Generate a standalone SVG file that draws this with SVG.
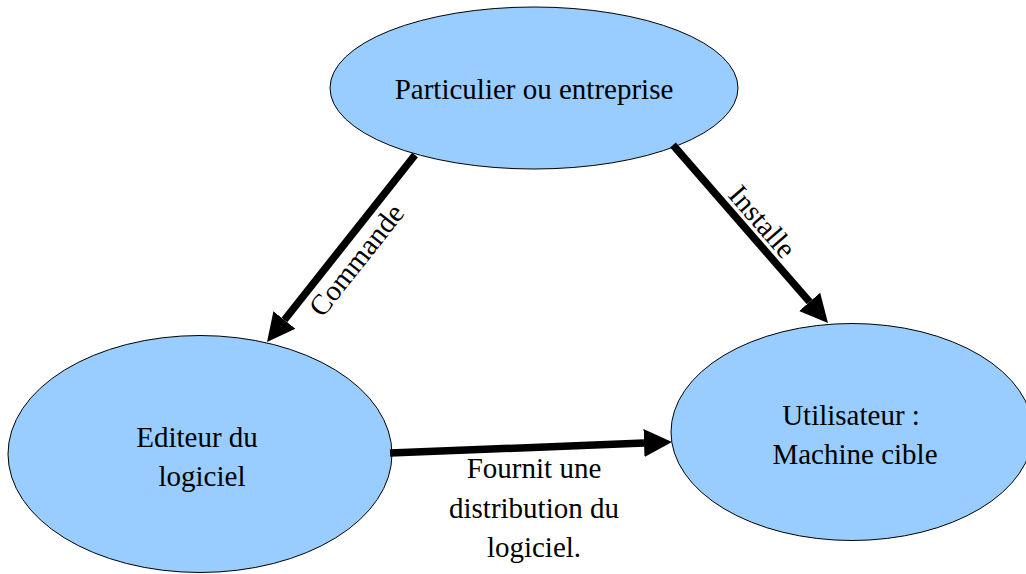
<svg xmlns="http://www.w3.org/2000/svg" width="1026" height="574" viewBox="0 0 1026 574">
  <style>
    .node { fill: #99ccff; stroke: #000; stroke-width: 1; }
    .lbl { font-family: "Liberation Serif", "Times New Roman", serif; font-size: 29px; fill: #000; text-anchor: middle; }
    .edge { stroke: #000; stroke-width: 7.5; fill: none; marker-end: url(#arrow); }
  </style>
  <defs>
    <marker id="arrow" markerUnits="userSpaceOnUse" markerWidth="30" markerHeight="30" viewBox="0 0 30 30" refX="0" refY="15" orient="auto">
      <path d="M0,1 L28,15 L0,29 z" fill="#000"/>
    </marker>
  </defs>
  <rect width="1026" height="574" fill="#fff"/>
  <g id="node-particulier">
    <ellipse class="node" cx="534" cy="88" rx="204" ry="81"/>
    <text class="lbl" x="534" y="99">Particulier ou entreprise</text>
  </g>
  <g id="node-editeur">
    <ellipse class="node" cx="200" cy="454" rx="192" ry="118.5"/>
    <text class="lbl" x="197" y="447">Editeur du</text>
    <text class="lbl" x="202" y="486">logiciel</text>
  </g>
  <g id="node-utilisateur">
    <ellipse class="node" cx="852" cy="432" rx="181" ry="108.5"/>
    <text class="lbl" x="851" y="425">Utilisateur :</text>
    <text class="lbl" x="855" y="464">Machine cible</text>
  </g>
  <g id="connectors">
    <g id="edge-commande">
      <line class="edge" x1="415" y1="155" x2="284.4" y2="320"/>
      <text class="lbl" transform="translate(364,266) rotate(-51.6)" x="0" y="0">Commande</text>
    </g>
    <g id="edge-installe">
      <line class="edge" x1="673" y1="145" x2="809.6" y2="301.9"/>
      <text class="lbl" transform="translate(755,228) rotate(49)" x="0" y="0">Installe</text>
    </g>
    <g id="edge-fournit">
      <line class="edge" x1="390" y1="453" x2="644" y2="443.1"/>
      <text class="lbl" x="534" y="478">Fournit une</text>
      <text class="lbl" x="534" y="518">distribution du</text>
      <text class="lbl" x="534" y="557">logiciel.</text>
    </g>
  </g>
</svg>
